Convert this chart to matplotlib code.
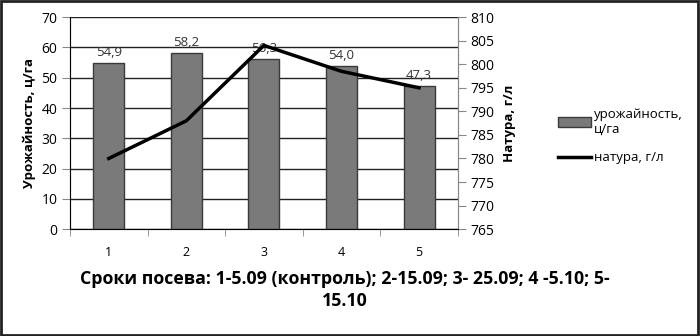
import numpy as np
import matplotlib
matplotlib.use("Agg")
from matplotlib import pyplot as plt
from matplotlib.patches import Rectangle

plt.rcParams['font.family'] = ['Open Sans', 'DejaVu Sans']

categories = ['1', '2', '3', '4', '5']
yield_vals = [54.9, 58.2, 56.3, 54.0, 47.3]
yield_labels = ['54,9', '58,2', '56,3', '54,0', '47,3']
natura_vals = [780, 788, 804, 798.5, 795]

fig = plt.figure(figsize=(7, 3.36), dpi=100)
ax = fig.add_axes([0.1, 0.318, 0.554, 0.631])
x = np.arange(len(categories))

ax.set_axisbelow(True)
ax.yaxis.grid(True, color='#222222', lw=1)
bars = ax.bar(x, yield_vals, width=0.4, color='#7a7a7a', edgecolor='#3a3a3a', lw=1,
              label='урожайность,\nц/га', zorder=2)
for xi, v, lab in zip(x, yield_vals, yield_labels):
    ax.text(xi, v + 1.2, lab, ha='center', va='bottom', fontsize=9.5, color='#333333', zorder=5)

ax.set_xlim(-0.5, 4.5)
ax.set_ylim(0, 70)
ax.set_yticks(range(0, 71, 10))
ax.set_xticks(x)
ax.set_xticklabels(categories)
ax.set_xticks(np.arange(-0.5, 5, 1), minor=True)
ax.tick_params(axis='x', which='major', length=0, pad=12, labelsize=9)
ax.tick_params(axis='x', which='minor', length=5, color='#888888', direction='out')
ax.tick_params(axis='y', length=6, color='#888888', labelsize=10, pad=3)
ax.spines['top'].set_visible(False)
for s in ['left', 'right', 'bottom']:
    ax.spines[s].set_color('#888888')
ax.set_ylabel('Урожайность, ц/га', fontsize=9.5, fontweight='bold', labelpad=4)

fig.text(0.492, 0.137, 'Сроки посева: 1-5.09 (контроль); 2-15.09; 3- 25.09; 4 -5.10; 5-\n15.10',
         ha='center', va='center', fontsize=12.8, fontweight='bold', linespacing=1.35)

ax2 = ax.twinx()
line, = ax2.plot(x, natura_vals, color='black', lw=2.5, label='натура, г/л', zorder=4)
ax2.set_ylim(765, 810)
ax2.set_yticks(range(765, 811, 5))
ax2.tick_params(axis='y', length=6, color='#888888', labelsize=10, pad=3)
ax2.spines['top'].set_visible(False)
ax2.spines['right'].set_color('#888888')
ax2.set_ylabel('Натура, г/л', fontsize=9.5, fontweight='bold', labelpad=6)

fig.legend([bars, line], ['урожайность,\nц/га', 'натура, г/л'],
           loc='upper left', bbox_to_anchor=(0.78, 0.715), frameon=False,
           fontsize=9.5, handlelength=2.5, handletextpad=0.2, labelspacing=1.2)

fig.patches.append(Rectangle((0.002, 0.004), 0.995, 0.993, transform=fig.transFigure,
                             fill=False, edgecolor='#222222', lw=2))

fig.savefig('out.png', dpi=100)
